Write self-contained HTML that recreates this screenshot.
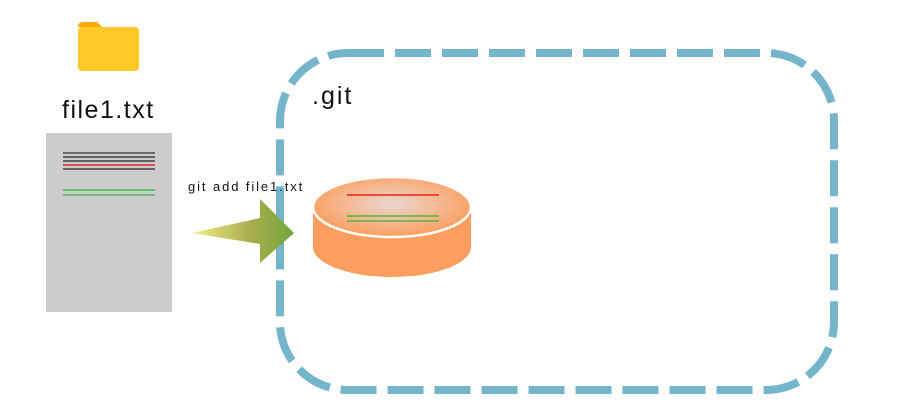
<!DOCTYPE html>
<html><head><meta charset="utf-8"><style>
html,body{margin:0;padding:0;background:#fff;}
svg{display:block;}
text{font-family:"Liberation Sans",sans-serif;}
</style></head><body>
<svg width="902" height="411" viewBox="0 0 902 411" xmlns="http://www.w3.org/2000/svg">
<defs>
<linearGradient id="ag" x1="0" x2="1" y1="0" y2="0">
<stop offset="0" stop-color="#f2ec8a"/><stop offset="0.6" stop-color="#a7ac4a"/><stop offset="1" stop-color="#6fa83c"/>
</linearGradient>
<radialGradient id="cg" cx="0.5" cy="0.45" r="0.55">
<stop offset="0" stop-color="#e8d8d0"/><stop offset="1" stop-color="#fd9e5e"/>
</radialGradient>
</defs>
<!-- folder -->
<path d="M78 27 Q78 22 83 22 L97 22 L102 27 L78 27 Z" fill="#ffa800"/>
<rect x="78" y="27" width="61" height="44" rx="4" fill="#ffc928"/>
<text x="62" y="118" font-size="25" letter-spacing="1.5" fill="#111">file1.txt</text>
<!-- document -->
<rect x="46" y="133" width="126" height="179" fill="#cccccc"/>
<g stroke-width="1.3">
<line x1="63" y1="153" x2="155" y2="153" stroke="#333"/>
<line x1="63" y1="157" x2="155" y2="157" stroke="#222"/>
<line x1="63" y1="161" x2="155" y2="161" stroke="#222"/>
<line x1="63" y1="165" x2="155" y2="165" stroke="#e00"/>
<line x1="63" y1="169" x2="155" y2="169" stroke="#222"/>
<line x1="63" y1="190" x2="155" y2="190" stroke="#22bb22"/>
<line x1="63" y1="195" x2="155" y2="195" stroke="#44aa44"/>
</g>
<!-- dashed box -->
<rect x="280" y="53" width="554" height="337" rx="68" fill="none" stroke="#74b5cb" stroke-width="8" stroke-dasharray="36 11"/>
<text x="312" y="104" font-size="25" letter-spacing="2" fill="#111">.git</text>
<!-- arrow -->
<text x="188" y="191" font-size="13" letter-spacing="1.9" fill="#111">git add file1.txt</text>
<path d="M192 233 L260 218 L260 199 L294 233 L260 263 L260 244 Z" fill="url(#ag)"/>
<!-- cylinder -->
<path d="M313 207 L313 247 A79 30 0 0 0 471 247 L471 207 Z" fill="#fd9e5e"/>
<ellipse cx="392" cy="207" rx="79" ry="30" fill="url(#cg)" stroke="#fff" stroke-width="2.5"/>
<line x1="347" y1="195" x2="439" y2="195" stroke="#e00" stroke-width="1.2"/>
<line x1="347" y1="216" x2="439" y2="216" stroke="#22bb22" stroke-width="1.2"/>
<line x1="347" y1="221" x2="439" y2="221" stroke="#44aa44" stroke-width="1.2"/>
</svg>
</body></html>
